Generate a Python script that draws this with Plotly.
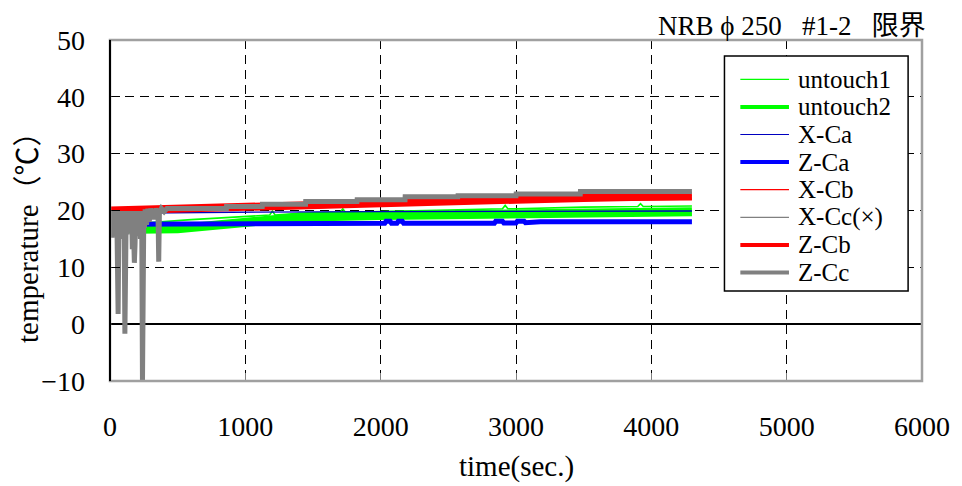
import plotly.graph_objects as go

# ---- measured series (time in sec, temperature in deg C) ----
t_untouch1 = [0, 150, 300, 600, 1000, 1180, 1200, 1220, 1400, 1700, 1720, 1740,
              2000, 2500, 2900, 2920, 2940, 3000, 3500, 3900, 3920, 3940, 4300]
v_untouch1 = [18.0, 17.9, 17.9, 18.4, 19.0, 19.2, 19.9, 19.2, 19.5, 19.7, 20.3,
              19.7, 19.8, 20.1, 20.3, 20.9, 20.3, 20.3, 20.6, 20.7, 21.2, 20.7, 20.8]

t_untouch2 = [0, 200, 500, 800, 1000, 1400, 2000, 2500, 3000, 3500, 4300]
v_untouch2 = [17.0, 16.7, 16.8, 17.4, 18.0, 18.8, 19.1, 19.3, 19.5, 19.7, 19.8]

t_xca = [0, 900, 2000, 3000, 4300]
v_xca = [19.5, 19.7, 19.8, 19.9, 19.9]

t_zca = [0, 1000, 2030, 2040, 2070, 2080, 2120, 2130, 2160, 2170, 2840, 2850,
         2900, 2910, 3000, 3010, 3060, 3070, 3180, 4300]
v_zca = [17.6, 17.75, 17.75, 18.1, 18.1, 17.75, 17.75, 18.1, 18.1, 17.75, 17.75,
         18.1, 18.1, 17.8, 17.8, 18.1, 18.1, 17.85, 18.0, 18.0]

t_xcb = [0, 500, 1000, 1500, 2000, 2500, 3000, 3500, 4300]
v_xcb = [19.8, 20.0, 20.3, 20.5, 20.9, 21.2, 21.5, 21.8, 21.9]

t_xcc = [0, 1000, 2000, 3000, 4300]
v_xcc = [19.6, 20.5, 21.3, 22.0, 22.6]

t_zcb = [0, 400, 1000, 1400, 2000, 2500, 3000, 3500, 4300]
v_zcb = [20.0, 20.3, 20.5, 20.75, 21.2, 21.6, 21.9, 22.2, 22.6]

t_zcc = [0, 5, 10, 15, 20, 25, 30, 35, 40, 45, 50, 55, 60, 65, 70, 75, 80, 85,
         90, 95, 100, 105, 110, 115, 120, 125, 130, 135, 140, 145, 150, 155,
         160, 165, 170, 175, 180, 185, 190, 195, 200, 205, 210, 215, 220, 225,
         230, 235, 240, 245, 250, 255, 260, 270, 280, 290, 300, 320, 340, 355,
         360, 365, 380, 400, 420, 860, 861, 1125, 1126, 1445, 1446, 1825, 1826,
         2180, 2181, 2570, 2571, 3000, 3001, 3475, 3476, 4300]
v_zcc = [19.8, 16.0, 19.8, 15.2, 19.9, 16.5, 19.8, 15.6, 19.9, 17.0, 19.8, 14.5,
         1.8, 16.0, 19.9, 16.2, 19.8, 15.0, 19.9, 16.8, 19.8, 16.0, -1.7, 16.5,
         19.9, 15.8, 19.8, 16.4, 19.9, 17.0, 19.8, 16.2, 19.9, 13.2, 19.8, 16.5,
         10.8, 14.0, 19.9, 16.5, 19.8, 15.5, 19.9, 16.8, 19.8, 15.0, 19.9, 16.0,
         -10.5, 16.5, 19.9, 17.0, 20.2, 17.5, 20.3, 18.0, 20.35, 18.5, 20.35, 19.0,
         11.0, 19.5, 20.35, 19.8, 20.35, 20.35, 20.7, 20.7, 21.1, 21.1, 21.6,
         21.6, 21.9, 21.9, 22.4, 22.4, 22.6, 22.6, 22.9, 22.9, 23.35, 23.35]

series = [
    ("untouch1", t_untouch1, v_untouch1, "#00ff00", 1.6, 1.2),
    ("untouch2", t_untouch2, v_untouch2, "#00ff00", 9, 4),
    ("X-Ca", t_xca, v_xca, "#0000c0", 1.4, 1.2),
    ("Z-Ca", t_zca, v_zca, "#0000ff", 5, 4),
    ("X-Cb", t_xcb, v_xcb, "#ff0000", 1.6, 1.2),
    ("X-Cc(×)", t_xcc, v_xcc, "#808080", 1.2, 1.2),
    ("Z-Cb", t_zcb, v_zcb, "#ff0000", 8, 4),
    ("Z-Cc", t_zcc, v_zcc, "#808080", 5, 4),
]

x_ticks = [0, 1000, 2000, 3000, 4000, 5000, 6000]
y_ticks = [-10, 0, 10, 20, 30, 40, 50]

# plot-area geometry in pixels
W, H = 962, 486
ML, MR, MT, MB = 110, 34, 40, 105
PW, PH = W - ML - MR, H - MT - MB


def px(xpix):
    return (xpix - ML) / PW


def py(ypix):
    return (H - MB - ypix) / PH


fig = go.Figure()
for name, t, v, color, width, _ in series:
    fig.add_trace(go.Scatter(x=t, y=v, mode="lines", name=name,
                             line=dict(color=color, width=width),
                             showlegend=False))

serif = "Liberation Serif, Times New Roman, Noto Sans CJK JP, serif"

shapes = [
    dict(type="rect", xref="paper", yref="paper", x0=0, x1=1, y0=0, y1=1,
         line=dict(color="#a0a0a0", width=2.5), layer="above"),
    dict(type="line", xref="paper", yref="paper", x0=0, x1=0, y0=0, y1=1,
         line=dict(color="black", width=2), layer="above"),
    # legend box
    dict(type="rect", xref="paper", yref="paper", x0=px(729), x1=px(914),
         y0=py(291), y1=py(56), line=dict(color="black", width=1.5),
         fillcolor="white", layer="above"),
]

annotations = [
    dict(text="NRB ϕ 250   #1-2   限界", xref="paper", yref="paper",
         x=1.0, y=1.0, xanchor="right", yanchor="bottom", showarrow=False,
         font=dict(size=27), yshift=-3, xshift=6),
    dict(text="time(sec.)", xref="paper", yref="paper", x=0.5, y=0,
         xanchor="center", yanchor="middle", yshift=-85, showarrow=False,
         font=dict(size=29)),
    dict(text="temperature（℃）", xref="paper", yref="paper", x=0, y=0.44,
         xanchor="center", yanchor="middle", xshift=-82, textangle=-90,
         showarrow=False, font=dict(size=29)),
]

# legend entries: sample line + label per series
for i, (name, _, _, color, _, lw) in enumerate(series):
    yc = 79.3 + i * 27.6
    shapes.append(dict(type="line", xref="paper", yref="paper",
                       x0=px(745), x1=px(794), y0=py(yc), y1=py(yc),
                       line=dict(color=color, width=lw), layer="above"))
    annotations.append(dict(text=name, xref="paper", yref="paper",
                            x=px(801), y=py(yc), xanchor="left",
                            yanchor="middle", showarrow=False,
                            font=dict(size=25)))

fig.update_layout(
    width=W, height=H,
    margin=dict(l=ML, r=MR, t=MT, b=MB),
    plot_bgcolor="white", paper_bgcolor="white",
    font=dict(family=serif, size=28, color="black"),
    showlegend=False,
    xaxis=dict(range=[0, 6000], tickvals=x_ticks, showgrid=True,
               gridcolor="black", gridwidth=1, griddash="9px,6px",
               zeroline=False, showline=False, ticks="inside", ticklen=8,
               tickcolor="#808080", ticklabelstandoff=26,
               tickfont=dict(size=28)),
    yaxis=dict(range=[-10, 50], tickvals=y_ticks, showgrid=True,
               gridcolor="black", gridwidth=1, griddash="9px,6px",
               zeroline=True, zerolinecolor="black", zerolinewidth=1.5,
               showline=False, ticks="inside", ticklen=10, tickcolor="black",
               ticklabelstandoff=24, tickfont=dict(size=28)),
    shapes=shapes,
    annotations=annotations,
)

fig.write_html("out.html")
